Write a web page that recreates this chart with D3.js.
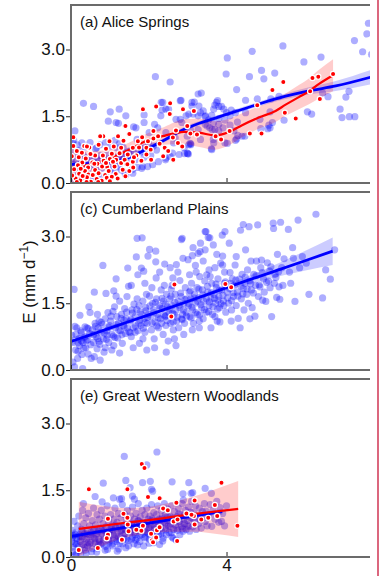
<!DOCTYPE html>
<html>
<head>
<meta charset="utf-8">
<script src="https://cdn.jsdelivr.net/npm/d3@7"></script>
<style>
  body { margin: 0; background: #fff; }
  svg { display: block; }
  text { font-family: "Liberation Sans", Arial, Helvetica, sans-serif; fill: #111; }
</style>
</head>
<body>
<svg id="chart" width="382" height="576"></svg>
<script>
// ---- Panel titles and axis ticks ----
const panelTitles = ["(a) Alice Springs", "(c) Cumberland Plains", "(e) Great Western Woodlands"];
const yTicks = [0, 1.5, 3.0];
const xTicks = [0, 4];

// ---- (a) Alice Springs: observations [x, E] ----
const aliceBlue = [
  [7.65,3.59],[7.61,3.35],[7.29,3.20],[7.50,2.95],[7.73,2.89],[5.45,3.08],[4.66,2.96],[4.02,2.81],
  [5.99,2.72],[6.43,2.83],[4.90,2.53],[5.24,2.47],[4.59,2.39],[4.96,2.34],[3.99,2.45],[4.26,2.10],
  [3.35,2.02],[3.27,2.00],[4.49,1.86],[4.79,1.89],[5.14,1.89],[5.35,1.95],[6.47,2.02],[6.61,1.94],
  [7.07,1.93],[7.15,2.06],[6.92,1.66],[6.97,1.47],[7.16,1.49],[7.30,1.49],[6.08,1.60],[6.19,1.55],
  [5.48,1.41],[5.18,1.36],[5.12,1.24],[4.88,1.22],[5.06,1.22],[4.49,1.58],[3.74,1.81],[3.80,1.72],
  [3.67,1.66],[3.93,1.66],[4.12,1.64],[4.23,1.58],[4.09,1.51],[3.29,1.73],[3.14,1.55],[3.33,1.58],
  [3.46,1.51],[3.54,1.42],[3.66,1.34],[3.80,1.32],[3.91,1.24],[4.09,1.30],[4.19,1.17],[4.28,1.37],
  [3.80,1.17],[3.63,1.20],[3.50,1.28],[3.07,1.20],[2.99,1.05],[3.33,0.98],[3.67,0.90],[3.61,0.77],
  [4.02,0.89],[4.26,0.99],[4.40,1.05],[5.09,1.30],[2.92,0.66],[3.00,0.66],[3.17,1.82],[3.27,1.51],
  [3.45,1.49],[3.70,1.75],[3.77,1.85],[3.87,1.72],[4.00,1.58],[3.40,1.62],[3.62,1.52],[3.80,1.45],
  [3.96,1.41],[3.45,1.32],[3.57,1.24],[3.70,1.20],[3.27,1.20],[3.66,0.98],[3.08,0.88],[4.29,1.07],
  [4.47,1.05],[4.23,0.96],[3.96,0.90],[3.62,0.75],[3.02,0.65],[3.06,0.89],[4.86,1.43],[5.12,1.60],
  [2.17,2.39],[2.55,2.27],[0.32,1.79],[0.58,1.72],[1.01,1.60],[1.61,1.26],[0.96,1.39],[1.22,1.34],
  [1.88,1.53],[1.88,1.36],[2.15,1.32],[2.32,1.81],[2.34,1.64],[2.51,1.66],[2.81,1.85],[2.81,1.43],
  [3.03,1.55],[3.11,1.81],[0.10,1.17],[0.28,0.90],[0.66,0.79],[1.70,0.98],[1.78,0.79],[1.99,0.90],
  [1.95,0.71],[2.12,0.83],[2.25,0.48],[2.43,0.52],[2.55,0.60],[2.99,0.67],[3.03,0.86],[2.64,0.90],
  [1.39,0.22],[1.57,0.30],[1.70,0.35],[1.82,0.33],[0.75,0.14],[0.58,0.07],[1.48,0.71],[1.18,0.79],
  [1.24,1.66],[1.41,1.51],[1.67,1.24],[1.16,1.36],[2.31,1.51],[2.36,1.81],[2.44,1.66],[2.83,1.86],
  [2.70,1.43],[2.85,1.36],[2.96,1.51],[3.11,1.73],[0.00,1.01],[0.04,0.90],[1.84,0.37],[1.97,0.37],
  [2.10,0.41],[1.41,0.18],[1.59,0.22],[2.61,0.67],[2.78,0.64],[2.91,0.79],[3.08,0.86],[2.44,0.56],
  [2.68,1.01],[2.44,1.13],[2.23,1.24],[2.01,1.13],
  [0.02,0.55],[0.06,0.42],[0.09,0.66],[0.14,0.50],[0.21,0.59],[0.26,0.44],[0.31,0.63],[0.37,0.52],
  [0.41,0.57],[0.46,0.46],[0.52,0.61],[0.57,0.49],[0.61,0.41],[0.66,0.56],[0.72,0.50],[0.76,0.62],
  [0.81,0.45],[0.87,0.55],[0.92,0.63],[0.97,0.47],[1.02,0.56],[1.07,0.61],[1.12,0.49],[1.16,0.44],
  [1.22,0.60],[1.27,0.54],[1.31,0.63],[1.36,0.57],[1.42,0.68],[1.47,0.60],[1.53,0.72],[1.62,0.66],
  [1.71,0.75],[1.81,0.70],[1.91,0.80],[0.04,0.21],[0.11,0.08],[0.19,0.31],[0.29,0.15],[0.42,0.26],
  [0.51,0.11],[0.62,0.31],[0.69,0.21],[0.79,0.33],[0.91,0.16],[1.01,0.30],[1.09,0.22],[1.21,0.36],
  [1.29,0.29],[0.03,0.81],[0.07,0.96],[0.16,0.86],[0.23,0.74],[0.36,0.81],[0.49,0.91],[0.63,0.77],
  [0.74,0.86],[0.89,0.91],[1.03,0.83],[1.13,0.96],[1.24,0.88],[1.34,0.80],[0.12,0.38],[0.33,0.36],
  [0.55,0.38],[0.83,0.40],[1.05,0.40],[1.45,0.45],[1.66,0.52],[1.88,0.58],[2.05,0.62],[2.20,0.74]
];
const aliceRed = [
  [3.16,1.62],[2.99,1.28],[3.07,1.11],[3.24,1.09],[3.72,1.05],[3.86,0.98],[4.08,1.17],[4.60,1.11],
  [4.90,1.11],[4.79,1.75],[5.18,2.09],[5.46,2.27],[5.50,1.58],[5.78,1.45],[6.15,2.06],[6.21,2.36],
  [6.36,2.39],[6.40,1.89],[6.74,2.45],
  [1.85,1.66],[2.19,1.72],[2.54,1.55],[2.88,1.66],[1.40,1.28],[0.83,1.05],[1.23,1.05],[0.99,0.94],
  [0.90,0.77],[0.34,0.83],[0.47,0.80],[0.71,0.86],[0.06,1.03],[0.06,0.83],[1.29,0.79],[1.59,0.79],
  [1.72,0.94],[1.83,1.03],[1.98,0.94],[2.12,1.00],[2.24,1.05],[2.28,0.88],[2.41,0.79],[2.62,1.02],
  [2.75,0.90],[2.37,0.60],[2.06,0.52],[1.94,0.64],[1.81,0.50],[1.59,0.48],[1.46,0.64],[1.25,0.67],
  [1.16,0.52],[1.29,0.45],[1.12,0.37],[1.33,0.30],[1.50,0.27],
  [1.00,0.54],[0.93,0.36],[0.84,0.50],[0.68,0.43],[0.55,0.46],[0.44,0.35],[0.29,0.46],[0.18,0.40],
  [0.08,0.31],[0.21,0.21],[0.36,0.27],[0.45,0.19],[0.62,0.29],[0.71,0.22],[0.88,0.18],[0.97,0.27],
  [1.15,0.20],[0.12,0.10],[0.24,0.06],[0.41,0.13],[0.51,0.03],[0.66,0.09],[0.79,0.05],[0.92,0.12],
  [1.05,0.14],[0.03,0.17],[0.15,0.02],
  [0.30,0.16],[0.56,0.18],[0.80,0.37],[1.08,0.48],[1.38,0.52],[1.94,0.79],[2.12,1.17],[0.75,1.05],
  [0.28,0.68],[0.41,0.82],[2.63,0.52],[2.86,0.82],[2.55,1.79],[1.21,1.05],[1.68,0.62],[1.05,0.66],
  [0.62,0.62],[0.20,0.58],[0.50,0.65],[1.40,0.15],[1.60,0.35],[1.75,0.80],[2.05,0.75],[0.40,0.02],
  [0.70,0.02],[1.00,0.04],[1.20,0.10],[0.25,0.32],[0.60,0.43],[0.90,0.45],[1.45,0.42],[1.62,0.58],
  [0.02,0.60],[0.15,0.72],[0.38,0.55],[0.82,0.62],[1.10,0.82],[1.35,0.95],[1.50,1.10],[2.50,0.72],
  [2.70,1.18]
];
// smoothed fits with confidence half-widths
const aliceBlueFitX = [0, 0.7, 1.42, 1.9, 2.37, 2.94, 3.23, 3.79, 4.67, 5.52, 6.12, 6.81, 7.72];
const aliceBlueFitY = [0.42, 0.45, 0.55, 0.74, 0.95, 1.22, 1.32, 1.48, 1.73, 1.95, 2.07, 2.18, 2.38];
const aliceBlueFitCI = [0.08, 0.06, 0.05, 0.05, 0.05, 0.05, 0.05, 0.05, 0.05, 0.06, 0.08, 0.11, 0.16];
const aliceRedFitX = [0, 0.5, 1.0, 1.5, 2.0, 2.4, 2.9, 3.3, 3.7, 4.05, 4.4, 4.83, 5.26, 5.52, 5.86, 6.12, 6.37, 6.74];
const aliceRedFitY = [0.35, 0.42, 0.55, 0.75, 0.97, 1.06, 1.15, 1.13, 1.07, 1.14, 1.30, 1.47, 1.62, 1.76, 1.93, 2.06, 2.22, 2.42];
const aliceRedFitCI = [0.42, 0.3, 0.2, 0.16, 0.16, 0.2, 0.28, 0.32, 0.32, 0.3, 0.27, 0.25, 0.25, 0.25, 0.27, 0.29, 0.32, 0.36];

// ---- (c) Cumberland Plains ----
const cumberlandBlue = [
  [0.02,0.78],[0.05,0.62],[0.08,1.81],[0.09,0.07],[0.12,0.45],[0.13,0.80],[0.15,0.95],[0.17,0.26],
  [0.20,0.70],[0.22,0.55],[0.23,1.23],[0.25,0.88],[0.28,0.35],[0.30,0.03],[0.31,0.62],[0.35,0.74],
  [0.38,0.50],[0.41,0.95],[0.43,0.68],[0.46,1.42],[0.48,0.82],[0.49,1.29],[0.52,0.26],[0.05,0.18],
  [0.10,0.98],[0.18,0.42],[0.36,0.97],[0.27,0.65],[0.44,0.36],
  [0.55,0.90],[0.58,0.62],[0.60,1.75],[0.62,1.05],[0.65,0.75],[0.67,0.48],[0.70,0.95],[0.72,1.10],
  [0.74,0.58],[0.77,0.85],[0.80,1.02],[0.82,2.35],[0.83,0.70],[0.85,0.40],[0.88,1.15],[0.90,1.72],
  [0.92,0.88],[0.95,1.29],[0.97,0.62],[0.99,1.00],[0.60,0.30],[0.75,0.22],[0.88,0.50],[0.68,1.25],
  [0.93,0.78],
  [1.02,1.10],[1.05,0.80],[1.08,1.32],[1.10,0.55],[1.12,1.42],[1.14,0.95],[1.16,2.05],[1.18,1.20],
  [1.20,0.72],[1.22,1.05],[1.25,1.55],[1.27,0.88],[1.30,1.25],[1.32,0.60],[1.35,1.00],[1.38,1.38],
  [1.40,0.82],[1.42,1.15],[1.44,1.65],[1.46,2.29],[1.48,1.88],[1.16,1.66],[1.05,0.45],[1.25,0.38],
  [1.45,0.95],[1.36,1.12],[1.10,1.78],
  [1.52,1.10],[1.55,0.75],[1.57,1.35],[1.60,0.95],[1.62,1.48],[1.65,1.20],[1.68,2.54],[1.70,2.96],
  [1.72,2.14],[1.74,1.05],[1.76,0.60],[1.78,1.30],[1.80,1.00],[1.81,2.29],[1.83,2.97],[1.85,1.55],
  [1.87,2.22],[1.88,1.15],[1.90,0.85],[1.92,1.40],[1.94,1.70],[1.96,1.05],[1.98,2.56],[1.99,1.25],
  [1.55,1.90],[1.60,0.50],[1.70,1.60],[1.85,0.70],[1.95,0.45],[1.65,0.85],[1.75,1.45],[1.90,1.95],
  [2.02,2.71],[2.02,1.66],[2.05,1.20],[2.07,0.90],[2.10,1.50],[2.12,1.35],[2.14,0.70],[2.16,1.08],
  [2.18,2.67],[2.18,2.43],[2.19,2.07],[2.20,1.60],[2.22,1.25],[2.25,0.95],[2.27,1.45],[2.30,1.15],
  [2.32,1.80],[2.35,1.38],[2.37,0.80],[2.38,1.55],[2.41,2.38],[2.42,1.20],[2.44,1.00],[2.46,1.70],
  [2.48,1.42],[2.50,0.65],[2.08,1.85],[2.28,2.20],[2.15,0.50],[2.40,1.90],[2.33,1.05],[2.45,0.40],
  [2.52,1.30],[2.54,1.60],[2.56,1.05],[2.58,1.82],[2.60,1.45],[2.62,2.07],[2.63,0.90],[2.65,1.25],
  [2.68,1.70],[2.70,1.35],[2.71,2.37],[2.72,1.10],[2.75,1.55],[2.77,0.95],[2.80,2.01],[2.80,1.40],
  [2.83,1.65],[2.84,2.93],[2.86,2.96],[2.87,1.25],[2.88,2.51],[2.90,1.50],[2.92,1.05],[2.94,1.85],
  [2.96,1.30],[2.98,1.60],[2.55,2.30],[2.66,0.70],[2.75,2.20],[2.90,0.80],[2.60,1.90],[2.85,1.15],
  [2.70,0.55],
  [3.01,2.48],[3.02,1.45],[3.04,1.75],[3.05,2.14],[3.06,1.20],[3.08,1.60],[3.10,1.95],[3.12,2.57],
  [3.13,1.35],[3.14,2.75],[3.15,1.05],[3.18,1.70],[3.20,1.50],[3.22,2.20],[3.24,1.85],[3.25,1.25],
  [3.27,2.62],[3.28,1.62],[3.30,0.95],[3.31,2.10],[3.32,2.66],[3.33,2.85],[3.36,1.40],[3.38,1.80],
  [3.40,2.45],[3.42,1.55],[3.44,2.00],[3.45,3.11],[3.45,2.70],[3.47,3.11],[3.48,1.30],[3.49,2.14],
  [3.12,0.90],[3.30,1.10],[3.20,2.35],[3.40,1.15],
  [3.52,1.75],[3.53,2.98],[3.55,1.45],[3.57,2.97],[3.58,2.10],[3.60,1.60],[3.62,1.95],[3.64,1.25],
  [3.66,2.81],[3.68,1.70],[3.70,2.30],[3.72,1.50],[3.74,1.85],[3.76,1.10],[3.78,2.05],[3.80,1.65],
  [3.82,1.40],[3.83,1.08],[3.85,2.40],[3.87,1.80],[3.89,3.03],[3.90,2.36],[3.90,2.56],[3.92,1.55],
  [3.94,1.95],[3.96,3.11],[3.98,1.30],[3.60,0.95],[3.70,1.20],[3.95,2.20],[3.55,2.25],[3.75,2.60],
  [4.02,1.75],[4.05,1.50],[4.07,2.85],[4.09,2.19],[4.10,1.95],[4.13,1.35],[4.15,2.05],[4.18,1.65],
  [4.20,1.90],[4.22,2.36],[4.25,1.45],[4.28,1.75],[4.30,1.16],[4.33,2.04],[4.36,3.14],[4.38,1.60],
  [4.40,2.15],[4.43,3.27],[4.43,1.83],[4.45,1.35],[4.47,1.95],[4.49,2.70],[4.12,1.10],[4.35,0.95],
  [4.25,2.55],
  [4.52,1.70],[4.54,2.25],[4.56,1.50],[4.58,3.22],[4.60,2.00],[4.63,2.45],[4.64,1.80],[4.66,1.40],
  [4.70,2.15],[4.73,1.21],[4.75,1.90],[4.77,2.45],[4.80,3.26],[4.82,1.65],[4.86,1.87],[4.88,2.30],
  [4.90,2.47],[4.93,1.57],[4.95,2.05],[4.97,1.75],[4.60,1.15],
  [5.01,1.54],[5.05,2.41],[5.08,2.00],[5.12,1.85],[5.14,2.32],[5.16,1.20],[5.20,3.30],[5.21,3.18],
  [5.25,2.15],[5.27,2.08],[5.29,1.63],[5.31,2.60],[5.35,1.87],[5.37,1.59],[5.39,3.32],[5.42,2.30],
  [5.45,1.90],[5.48,2.50],
  [5.59,3.16],[5.62,2.20],[5.70,2.75],[5.72,2.51],[5.76,1.54],[5.84,3.37],[5.88,2.30],[5.95,2.55],
  [5.65,1.95],[6.05,2.40],[6.12,1.70],[6.30,3.50],[6.47,1.62],[6.55,2.25],[6.67,2.04],[6.78,2.70],
  [0.27,0.84],[0.39,0.66],[0.44,0.93],[0.58,0.79],[0.63,0.98],[0.69,0.71],[0.78,1.07],[0.86,0.83],
  [0.97,0.96],[1.03,1.21],[1.09,0.76],[1.17,1.02],[1.23,0.89],[1.29,1.16],[1.37,0.97],[1.43,1.30],
  [1.49,0.86],[1.54,1.13],[1.58,1.28],[1.66,0.99],[1.69,1.36],[1.77,1.12],[1.82,1.25],[1.86,0.94],
  [1.93,1.33],[1.97,1.18],[2.03,1.44],[2.09,1.05],[2.13,1.29],[2.17,1.52],[2.24,1.17],[2.29,1.39],
  [2.34,1.61],[2.39,1.24],[2.43,1.48],[2.47,1.11],[2.53,1.37],[2.57,1.66],[2.61,1.28],[2.67,1.52],
  [2.73,1.19],[2.78,1.46],[2.82,1.73],[2.89,1.35],[2.93,1.58],[2.97,1.21],[3.03,1.49],[3.07,1.78],
  [3.11,1.41],[3.16,1.62],[3.21,1.29],[3.26,1.54],[3.29,1.82],[3.34,1.47],[3.39,1.69],[3.43,1.36],
  [3.48,1.60],[3.51,1.88],[3.56,1.53],[3.61,1.74],[3.65,1.42],[3.69,1.61],[3.73,1.93],[3.78,1.57],
  [3.81,1.79],[3.86,1.49],[3.91,1.68],[3.97,1.98],[4.03,1.62],[4.08,1.83],[4.13,1.56],[4.17,1.74],
  [4.24,2.02],[4.29,1.66],[4.37,1.88],[4.42,1.71],[4.48,2.09],[4.53,1.82],[4.62,1.94],[4.69,1.73],
  [4.76,2.12],[4.84,1.91],[4.92,2.19],[5.03,1.97],[5.11,2.22],[5.23,1.95],[5.34,2.21],
  [0.18,0.61],[0.33,0.49],[0.51,0.57],[0.72,0.64],[0.91,0.69],[1.13,0.73],[1.31,0.79],[1.52,0.84],
  [1.72,0.88],[1.91,1.07],[2.21,0.99],[2.44,1.22],[2.63,1.08],[2.86,1.13],[3.09,1.17],[3.31,1.24],
  [3.54,1.31],[3.77,1.37],[3.93,1.45]
];
const cumberlandRed = [[2.66,1.92],[2.58,1.20],[3.97,1.93],[4.12,1.86]];
const cumberlandFitX = [0, 1, 2, 3, 4, 5, 6, 6.73];
const cumberlandFitY = [0.64, 0.94, 1.24, 1.54, 1.85, 2.15, 2.45, 2.67];
const cumberlandFitCI = [0.09, 0.06, 0.04, 0.04, 0.06, 0.12, 0.22, 0.31];

// ---- (e) Great Western Woodlands ----
const woodlandsBlue = [
  [1.37,2.26],[2.21,2.36],[1.95,2.07],[1.41,1.72],[2.07,1.52],[2.60,1.69],[3.03,1.67],[0.83,1.66],
  [0.62,1.36],[1.09,1.33],[1.30,1.31],[1.58,1.37],[0.32,1.20],[1.84,1.67],[2.04,1.70],[1.52,1.56],
  [2.10,1.48],[0.80,1.24],[1.25,1.30],[1.63,1.30],[2.88,1.42],[3.09,1.43],[3.45,1.54],[3.61,1.43],
  [2.89,1.28],[3.13,1.45],
  [0.02,0.35],[0.03,0.60],[0.05,0.12],[0.06,0.48],[0.08,0.80],[0.10,0.30],[0.12,0.55],[0.13,0.05],
  [0.15,0.42],[0.17,0.70],[0.18,0.22],[0.20,0.92],[0.22,0.50],[0.24,0.35],[0.25,0.08],[0.27,0.62],
  [0.29,0.45],[0.30,1.05],[0.32,0.28],[0.33,0.75],[0.35,0.52],[0.37,0.15],[0.38,0.88],[0.40,0.40],
  [0.42,0.60],[0.43,0.25],[0.45,0.98],[0.47,0.50],[0.48,0.70],[0.50,0.33],
  [0.52,0.55],[0.53,0.12],[0.55,0.82],[0.57,0.45],[0.58,1.10],[0.60,0.62],[0.62,0.30],[0.63,0.72],
  [0.65,0.50],[0.67,0.95],[0.68,0.20],[0.70,0.58],[0.72,0.40],[0.73,0.85],[0.75,0.65],[0.77,0.28],
  [0.78,1.05],[0.80,0.52],[0.82,0.75],[0.83,0.38],[0.85,0.60],[0.87,0.92],[0.88,0.15],[0.90,0.68],
  [0.92,0.45],[0.93,1.15],[0.95,0.55],[0.97,0.80],[0.98,0.32],[1.00,0.62],
  [1.02,0.95],[1.03,0.48],[1.05,0.70],[1.07,0.25],[1.08,0.58],[1.10,0.85],[1.12,0.42],[1.13,1.10],
  [1.15,0.65],[1.17,0.35],[1.18,0.78],[1.20,0.55],[1.22,0.98],[1.23,0.18],[1.25,0.68],[1.27,0.45],
  [1.28,0.88],[1.30,0.60],[1.32,1.18],[1.33,0.30],[1.35,0.72],[1.37,0.52],[1.38,0.95],[1.40,0.62],
  [1.42,0.40],[1.43,0.80],[1.45,1.05],[1.47,0.58],[1.48,0.25],[1.50,0.75],
  [1.52,0.55],[1.53,0.92],[1.55,0.40],[1.57,0.70],[1.58,1.12],[1.60,0.62],[1.62,0.30],[1.63,0.85],
  [1.65,0.50],[1.67,0.98],[1.68,0.72],[1.70,0.42],[1.72,0.82],[1.73,1.20],[1.75,0.60],[1.77,0.35],
  [1.78,0.90],[1.80,0.68],[1.82,0.50],[1.83,1.05],[1.85,0.78],[1.87,0.25],[1.88,0.62],[1.90,0.95],
  [1.92,0.45],[1.93,0.72],[1.95,1.10],[1.97,0.55],[1.98,0.85],[2.00,0.65],
  [2.02,0.40],[2.03,0.92],[2.05,0.70],[2.07,1.18],[2.08,0.55],[2.10,0.82],[2.12,0.32],[2.13,1.00],
  [2.15,0.62],[2.17,0.78],[2.18,0.45],[2.20,0.95],[2.22,0.68],[2.23,1.15],[2.25,0.50],[2.27,0.85],
  [2.28,0.28],[2.30,0.72],[2.32,1.05],[2.33,0.58],[2.35,0.90],[2.37,0.42],[2.38,0.78],[2.40,1.20],
  [2.42,0.65],[2.43,0.95],[2.45,0.50],[2.47,0.82],[2.48,1.08],[2.50,0.70],
  [2.52,0.55],[2.54,0.92],[2.56,0.75],[2.58,1.15],[2.60,0.45],[2.62,0.85],[2.64,0.62],[2.66,1.02],
  [2.68,0.72],[2.70,0.38],[2.72,0.90],[2.74,0.60],[2.76,1.10],[2.78,0.80],[2.80,0.50],[2.82,0.95],
  [2.84,0.68],[2.86,1.20],[2.88,0.58],[2.90,0.85],[2.92,0.75],[2.94,1.05],[2.96,0.62],[2.98,0.92],
  [3.00,0.72],[3.02,1.12],[3.05,0.58],[3.08,0.88],[3.10,1.25],[3.13,0.68],[3.15,1.00],[3.17,0.80],
  [3.20,1.15],[3.22,0.62],[3.25,0.92],[3.28,0.75],[3.30,1.10],[3.32,0.84],[3.35,0.65],[3.38,1.02],
  [3.40,0.88],[3.43,1.20],[3.45,0.80],[3.47,1.03],[3.50,0.70],
  [3.55,0.95],[3.58,1.18],[3.62,0.69],[3.65,1.04],[3.70,0.85],[3.75,1.25],[3.80,0.78],[3.83,1.11],
  [3.87,0.80],[3.90,0.98],[3.95,0.70],[4.00,1.15],
  [0.03,0.44],[0.11,0.51],[0.16,0.37],[0.23,0.46],[0.29,0.58],[0.34,0.41],[0.41,0.52],[0.44,0.33],
  [0.51,0.47],[0.58,0.59],[0.61,0.41],[0.67,0.53],[0.73,0.36],[0.79,0.61],[0.84,0.48],[0.91,0.55],
  [0.96,0.39],[1.04,0.62],[1.09,0.50],[1.14,0.71],[1.21,0.46],[1.27,0.59],[1.31,0.67],[1.39,0.52],
  [1.44,0.69],[1.51,0.61],[1.56,0.77],[1.63,0.55],[1.69,0.70],[1.74,0.81],[1.79,0.63],[1.86,0.75],
  [1.91,0.57],[1.97,0.79],[2.03,0.69],[2.09,0.86],[2.14,0.71],[2.22,0.81],[2.29,0.64],[2.34,0.86],
  [2.41,0.76],[2.49,0.91],[2.55,0.69],[2.61,0.88],[2.69,0.79],[2.77,0.97],[2.83,0.74],[2.91,0.93],
  [2.99,0.82],[3.07,1.01],[3.14,0.86],
  [0.07,0.22],[0.14,0.29],[0.21,0.14],[0.28,0.27],[0.36,0.21],[0.47,0.29],[0.55,0.19],[0.63,0.34],
  [0.71,0.27],[0.81,0.31],[0.89,0.24],[0.99,0.36],[1.06,0.29],[1.18,0.39],[1.25,0.31],[1.36,0.42],
  [1.47,0.37],[1.58,0.45],[1.66,0.38],[1.77,0.49],[1.89,0.43],[1.99,0.52],[2.11,0.47],[2.19,0.57],
  [2.31,0.51],[2.44,0.61],[2.58,0.55],[2.72,0.64],[2.87,0.63],[3.02,0.69],
  [0.12,0.06],[0.39,0.09],[0.66,0.11],[0.94,0.17],[1.19,0.13],[1.41,0.21],[1.71,0.27],[2.01,0.31],
  [2.36,0.36],[2.63,0.42]
];
const woodlandsRed = [
  [0.20,0.16],[0.69,0.20],[0.46,1.52],[1.45,1.52],[1.82,2.09],[1.89,2.00],[1.98,1.35],[0.95,0.86],
  [1.45,0.88],[1.46,0.73],[1.68,0.61],[1.85,0.70],[1.81,0.59],[1.48,0.58],[0.95,0.50],[0.92,0.42],
  [1.31,0.39],[2.06,0.52],[2.08,0.37],[2.21,0.60],[2.19,0.44],[2.28,0.67],[2.73,0.36],[2.64,0.80],
  [2.74,0.84],[2.71,1.22],[2.37,1.09],[2.49,1.05],[2.97,0.98],[3.18,1.27],[3.16,0.92],[3.87,1.67],
  [3.70,1.17],[4.28,0.70],[3.53,0.88],[3.35,0.84],[3.18,0.73],[3.76,0.92],[2.28,1.32],[1.35,0.97],
  [2.11,0.33],[3.10,0.95]
];
const woodlandsBlueFitX = [0, 1, 2, 3, 3.89];
const woodlandsBlueFitY = [0.46, 0.61, 0.76, 0.90, 1.02];
const woodlandsBlueFitCI = [0.05, 0.03, 0.03, 0.04, 0.07];
const woodlandsRedFitX = [0.2, 0.8, 1.4, 2.0, 2.6, 3.2, 3.8, 4.3];
const woodlandsRedFitY = [0.63, 0.70, 0.77, 0.83, 0.90, 0.97, 1.03, 1.08];
const woodlandsRedFitCI = [0.61, 0.45, 0.33, 0.30, 0.33, 0.40, 0.52, 0.63];

// ---- layout ----
const svg = d3.select("#chart");
const left = 71, right = 370, panelH = 178;
const panelTops = [5, 192, 379];
const x = d3.scaleLinear().domain([0, 7.69]).range([left, right]);

const fit = (xs, ys, ci) => xs.map((v, i) => ({ x: v, y: ys[i], lo: ys[i] - ci[i], hi: ys[i] + ci[i] }));

const panels = [
  { title: panelTitles[0], blue: aliceBlue, red: aliceRed,
    blueFit: fit(aliceBlueFitX, aliceBlueFitY, aliceBlueFitCI),
    redFit: fit(aliceRedFitX, aliceRedFitY, aliceRedFitCI) },
  { title: panelTitles[1], blue: cumberlandBlue, red: cumberlandRed,
    blueFit: fit(cumberlandFitX, cumberlandFitY, cumberlandFitCI), redFit: null },
  { title: panelTitles[2], blue: woodlandsBlue, red: woodlandsRed,
    blueFit: fit(woodlandsBlueFitX, woodlandsBlueFitY, woodlandsBlueFitCI),
    redFit: fit(woodlandsRedFitX, woodlandsRedFitY, woodlandsRedFitCI) }
];

const frame = "#6b6b6b";
const font = "'Liberation Sans', Arial, sans-serif";

panels.forEach((p, i) => {
  const top = panelTops[i], bottom = top + panelH;
  const y = d3.scaleLinear().domain([0, 4.0]).range([bottom, top]);
  const g = svg.append("g");

  const clipId = "clip" + i;
  svg.append("clipPath").attr("id", clipId)
    .append("rect").attr("x", left).attr("y", top).attr("width", right - left).attr("height", panelH);
  const plot = g.append("g").attr("clip-path", `url(#${clipId})`);

  // observations (blue)
  plot.append("g").selectAll("circle").data(p.blue).join("circle")
    .attr("cx", d => x(d[0])).attr("cy", d => y(d[1])).attr("r", 3.6)
    .attr("fill", "#0000ff").attr("fill-opacity", 0.32);

  const area = d3.area().curve(d3.curveMonotoneX).x(d => x(d.x)).y0(d => y(d.lo)).y1(d => y(d.hi));
  const line = d3.line().curve(d3.curveMonotoneX).x(d => x(d.x)).y(d => y(d.y));

  plot.append("path").datum(p.blueFit).attr("d", area).attr("fill", "#0000ff").attr("fill-opacity", 0.2);
  if (p.redFit) plot.append("path").datum(p.redFit).attr("d", area).attr("fill", "#ff0000").attr("fill-opacity", 0.2);
  plot.append("path").datum(p.blueFit).attr("d", line).attr("fill", "none").attr("stroke", "#0000ff").attr("stroke-width", 2.8);
  if (p.redFit) plot.append("path").datum(p.redFit).attr("d", line).attr("fill", "none").attr("stroke", "#ff0000").attr("stroke-width", 2.2);

  // observations (red)
  plot.append("g").selectAll("circle").data(p.red).join("circle")
    .attr("cx", d => x(d[0])).attr("cy", d => y(d[1])).attr("r", 2.6)
    .attr("fill", "#ff0000").attr("stroke", "#fff").attr("stroke-width", 1.2);

  // frame
  g.append("line").attr("x1", left).attr("x2", right).attr("y1", top).attr("y2", top)
    .attr("stroke", frame).attr("stroke-width", 2);
  g.append("line").attr("x1", left).attr("x2", right).attr("y1", bottom).attr("y2", bottom)
    .attr("stroke", frame).attr("stroke-width", 2);
  g.append("line").attr("x1", left).attr("x2", left).attr("y1", top - 1).attr("y2", bottom + 1)
    .attr("stroke", frame).attr("stroke-width", 2);

  // y axis
  const ya = g.append("g").attr("transform", `translate(${left - 1},0)`)
    .call(d3.axisLeft(y).tickValues(yTicks).tickFormat(d3.format(".1f")).tickSize(4).tickPadding(1));
  ya.select(".domain").remove();
  ya.selectAll(".tick line").attr("stroke", "#222").attr("stroke-width", 1);
  ya.selectAll(".tick text").style("font-size", "17px").style("font-family", font).attr("fill", "#111");

  // x axis (inward ticks, labels on the last panel only)
  const xa = g.append("g").attr("transform", `translate(0,${bottom - 1})`)
    .call(d3.axisBottom(x).tickValues(xTicks).tickSize(-4).tickPadding(3)
      .tickFormat(i === panels.length - 1 ? d3.format("d") : () => ""));
  xa.select(".domain").remove();
  xa.selectAll(".tick line").attr("stroke", "#222").attr("stroke-width", 1);
  xa.selectAll(".tick text").style("font-size", "17px").style("font-family", font).attr("fill", "#111");

  // title
  g.append("text").attr("x", left + 9).attr("y", top + 22)
    .style("font-size", "15px").text(p.title);
});

// y axis label
const yl = svg.append("text").attr("transform", "translate(35,282) rotate(-90)")
  .attr("text-anchor", "middle").style("font-size", "17px");
yl.append("tspan").text("E (mm d");
yl.append("tspan").attr("dy", -7).style("font-size", "12px").text("\u22121");
yl.append("tspan").attr("dy", 7).text(")");

// vertical rule at the right edge
svg.append("line").attr("x1", 378).attr("x2", 378).attr("y1", 0).attr("y2", 576)
  .attr("stroke", "#d2405e").attr("stroke-width", 1.6);
</script>
</body>
</html>
